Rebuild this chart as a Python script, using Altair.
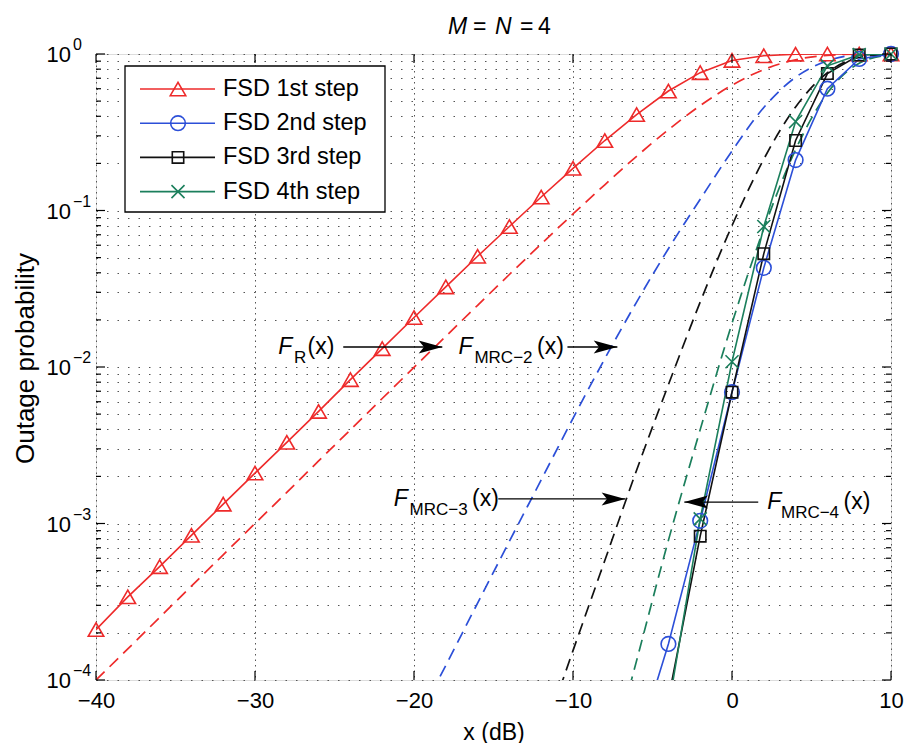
import altair as alt
import pandas as pd

FONT = "Liberation Sans"
RED = "#ee2a2a"
BLUE = "#2c4fd8"
BLACK = "#111111"
GREEN = "#1b7f5c"

# ---------------- data ----------------
x_fsd1 = list(range(-40, 11, 2))
fsd1 = [2.1e-4, 3.4e-4, 5.3e-4, 8.4e-4, 1.33e-3, 2.1e-3, 3.3e-3, 5.2e-3, 8.3e-3, 1.31e-2,
        2.07e-2, 3.25e-2, 5.1e-2, 7.9e-2, 0.122, 0.186, 0.28, 0.41, 0.58, 0.76,
        0.91, 0.975, 0.997, 1.0, 1.0, 1.0]
x_fsd2 = [-6, -4, -2, 0, 2, 4, 6, 8, 10]
fsd2 = [3.7e-5, 1.7e-4, 1.04e-3, 6.9e-3, 0.043, 0.21, 0.60, 0.93, 1.0]
x_fsd34 = [-4, -2, 0, 2, 4, 6, 8, 10]
fsd3 = [7.6e-5, 8.3e-4, 6.9e-3, 0.053, 0.28, 0.75, 0.985, 1.0]
fsd4 = [6.6e-5, 1.07e-3, 1.08e-2, 0.079, 0.37, 0.84, 0.99, 1.0]

x_fr = list(range(-40, 11, 2))
fr = [1.0e-4, 1.58e-4, 2.51e-4, 3.98e-4, 6.31e-4, 1.0e-3, 1.58e-3, 2.51e-3, 3.97e-3, 6.29e-3,
      9.95e-3, 1.57e-2, 2.48e-2, 3.9e-2, 6.11e-2, 9.5e-2, 0.146, 0.222, 0.328, 0.468,
      0.632, 0.795, 0.919, 0.981, 0.998, 1.0]
x_m2 = list(range(-20, 11, 2))
m2 = [5.0e-5, 1.24e-4, 3.1e-4, 7.7e-4, 1.9e-3, 4.7e-3, 1.13e-2, 2.6e-2, 5.7e-2, 0.118,
      0.24, 0.455, 0.71, 0.905, 0.987, 1.0]
x_m3 = list(range(-12, 11, 2))
m3 = [4.0e-5, 1.54e-4, 5.8e-4, 2.19e-3, 7.7e-3, 2.6e-2, 8.0e-2, 0.213, 0.459, 0.759, 0.95, 0.997]
x_m4 = list(range(-8, 11, 2))
m4 = [2.3e-5, 1.33e-4, 7.8e-4, 3.98e-3, 1.9e-2, 7.65e-2, 0.245, 0.563, 0.874, 0.99]

legend_labels = ["FSD 1st step", "FSD 2nd step", "FSD 3rd step", "FSD 4th step"]
x_ticks = [-40, -30, -20, -10, 0, 10]
y_major = [1e-4, 1e-3, 1e-2, 1e-1, 1.0]
y_exp_labels = ["\u22124", "\u22123", "\u22122", "\u22121", "0"]
y_minor = [m * 10.0 ** k for k in range(-4, 0) for m in range(2, 10)]

# annotations  F_sub(x) with arrows
ann_subs = ["R", "MRC\u22122", "MRC\u22123", "MRC\u22124"]
ann_y = [0.01342, 0.01342, 1.435e-3, 1.371e-3]
ann_f_x = [-28.53, -17.20, -21.28, 2.21]
ann_sub_x = [-27.55, -16.20, -20.28, 3.08]
ann_par_x = [-26.70, -12.26, -16.35, 7.02]
arrow_x0 = [-24.45, -10.35, -14.70, 1.65]
arrow_x1 = [-18.22, -7.21, -6.71, -3.0]

# ---------------- scales / axes ----------------
W, H = 795, 626
xs = alt.Scale(domain=[-40, 10], nice=False, zero=False)
ys = alt.Scale(type="log", domain=[1e-4, 1], nice=False)

x_axis = alt.Axis(values=x_ticks, grid=True, gridDash=[1.5, 4], gridColor="#555555", gridWidth=1,
                  ticks=False, domain=False, labelFont=FONT, labelFontSize=22, labelColor="black",
                  labelPadding=10, labelFlush=False, labelOverlap=False, format="d",
                  labelExpr="replace(datum.label, '-', '\u2212')",
                  title="x (dB)", titleFont=FONT, titleFontSize=23, titleFontWeight="normal",
                  titleColor="black", titleY=52, titleBaseline="middle")
y_axis = alt.Axis(values=y_major + y_minor, grid=True, gridDash=[1.5, 9], gridColor="#555555",
                  gridWidth=1, ticks=False, domain=False, labels=False,
                  title="Outage probability", titleFont=FONT, titleFontSize=26,
                  titleFontWeight="normal", titleColor="black", titleX=-71, titleY=304,
                  titleAngle=270, titleAlign="center", titleBaseline="middle")


def frame(xv, yv):
    return pd.DataFrame({"x": xv, "y": yv})


one = pd.DataFrame({"k": [0]})
X = alt.X("x:Q", scale=xs)
Y = alt.Y("y:Q", scale=ys)

layers = []

# dashed analytic curves
first = True
for xv, yv, col in [(x_fr, fr, RED), (x_m2, m2, BLUE), (x_m3, m3, BLACK), (x_m4, m4, GREEN)]:
    if first:
        enc = dict(x=alt.X("x:Q", scale=xs, axis=x_axis), y=alt.Y("y:Q", scale=ys, axis=y_axis))
        first = False
    else:
        enc = dict(x=X, y=Y)
    layers.append(alt.Chart(frame(xv, yv)).mark_line(
        color=col, strokeDash=[12, 7], strokeWidth=1.7, clip=True, interpolate="monotone").encode(**enc))

XSHAPE = "M-1,-1L1,1M-1,1L1,-1"
series = [
    (x_fsd1, fsd1, RED, "triangle-up", 240),
    (x_fsd2, fsd2, BLUE, "circle", 215),
    (x_fsd34, fsd3, BLACK, "square", 130),
    (x_fsd34, fsd4, GREEN, XSHAPE, 170),
]
for xv, yv, col, shp, sz in series:
    d = frame(xv, yv)
    layers.append(alt.Chart(d).mark_line(color=col, strokeWidth=1.6, clip=True).encode(x=X, y=Y))
for xv, yv, col, shp, sz in series:
    d = frame(xv, yv)
    layers.append(alt.Chart(d).transform_filter(alt.datum.y >= 1e-4).mark_point(
        shape=shp, size=sz, color=col, filled=False, strokeWidth=1.6, opacity=1).encode(x=X, y=Y))

# inward ticks
xt = pd.DataFrame({"x": x_ticks})
layers.append(alt.Chart(xt).mark_rule(color="black", strokeWidth=1.2).encode(
    x=X, y=alt.value(H), y2=alt.value(H - 9)))
layers.append(alt.Chart(xt).mark_rule(color="black", strokeWidth=1.2).encode(
    x=X, y=alt.value(0), y2=alt.value(9)))
ymaj = pd.DataFrame({"y": y_major, "e": y_exp_labels})
ymin = pd.DataFrame({"y": y_minor})
for d, ln in [(ymaj, 9), (ymin, 5)]:
    layers.append(alt.Chart(d).mark_rule(color="black", strokeWidth=1.2).encode(
        y=Y, x=alt.value(0), x2=alt.value(ln)))
    layers.append(alt.Chart(d).mark_rule(color="black", strokeWidth=1.2).encode(
        y=Y, x=alt.value(W), x2=alt.value(W - ln)))

# y tick labels 10^k
layers.append(alt.Chart(ymaj).mark_text(align="right", baseline="middle", font=FONT, fontSize=22,
                                        color="black", dy=1).encode(
    y=Y, x=alt.value(-25), text=alt.value("10")))
layers.append(alt.Chart(ymaj).mark_text(align="left", baseline="middle", font=FONT, fontSize=16,
                                        color="black", dy=-9).encode(
    y=Y, x=alt.value(-23), text="e:N"))

# annotations
ann_f = pd.DataFrame({"x": ann_f_x, "y": ann_y})
ann_s = pd.DataFrame({"x": ann_sub_x, "y": ann_y, "t": ann_subs})
ann_p = pd.DataFrame({"x": ann_par_x, "y": ann_y})
arr = pd.DataFrame({"x": arrow_x0, "x2": arrow_x1, "y": ann_y})
layers.append(alt.Chart(ann_f).mark_text(align="left", baseline="middle", font=FONT, fontSize=23,
                                         fontStyle="italic", color="black").encode(
    x=X, y=Y, text=alt.value("F")))
layers.append(alt.Chart(ann_s).mark_text(align="left", baseline="middle", font=FONT, fontSize=17,
                                         color="black", dy=11).encode(x=X, y=Y, text="t:N"))
layers.append(alt.Chart(ann_p).mark_text(align="left", baseline="middle", font=FONT, fontSize=23,
                                         color="black").encode(x=X, y=Y, text=alt.value("(x)")))
layers.append(alt.Chart(arr).mark_rule(color="black", strokeWidth=1.3).encode(
    x=X, x2="x2:Q", y=Y))
HEAD_R = "M0,0L-2,-0.55L-1.55,0L-2,0.55Z"
HEAD_L = "M0,0L2,-0.55L1.55,0L2,0.55Z"
heads_r = pd.DataFrame({"x": arrow_x1[:3], "y": ann_y[:3]})
heads_l = pd.DataFrame({"x": arrow_x1[3:], "y": ann_y[3:]})
for d, shp in [(heads_r, HEAD_R), (heads_l, HEAD_L)]:
    layers.append(alt.Chart(d).mark_point(shape=shp, size=560, filled=True, color="black",
                                          opacity=1, strokeWidth=0).encode(x=X, y=Y))

# legend box
layers.append(alt.Chart(one).mark_rect(fill="white", stroke="black", strokeWidth=1.3).encode(
    x=alt.value(29), x2=alt.value(289), y=alt.value(12), y2=alt.value(158)))
for i, (lab, (xv, yv, col, shp, sz)) in enumerate(zip(legend_labels, series)):
    yy = 35 + i * 34.2
    layers.append(alt.Chart(one).mark_rule(color=col, strokeWidth=1.6).encode(
        x=alt.value(44), x2=alt.value(119), y=alt.value(yy)))
    layers.append(alt.Chart(one).mark_point(shape=shp, size=sz, color=col, filled=False,
                                            strokeWidth=1.6, opacity=1).encode(
        x=alt.value(82), y=alt.value(yy)))
    layers.append(alt.Chart(one).mark_text(align="left", baseline="middle", font=FONT, fontSize=23.5,
                                           color="black").encode(
        x=alt.value(127), y=alt.value(yy), text=alt.value(lab)))

# title  M = N = 4
for txt, px, it in [("M", 352, True), ("=", 377, False), ("N", 399, True), ("=", 424, False), ("4", 442, False)]:
    kw = dict(fontStyle="italic") if it else {}
    layers.append(alt.Chart(one).mark_text(align="left", baseline="middle", font=FONT, fontSize=23,
                                           color="black", **kw).encode(
        x=alt.value(px), y=alt.value(-27), text=alt.value(txt)))

chart = alt.layer(*layers).properties(
    width=W, height=H,
    autosize=alt.AutoSizeParams(type="none"),
    padding={"left": 96, "top": 54, "right": 15, "bottom": 63},
    background="white",
).configure_view(stroke="black", strokeWidth=1.5).configure(font=FONT)

chart.save("out.html", embed_options={"renderer": "svg", "actions": False})
